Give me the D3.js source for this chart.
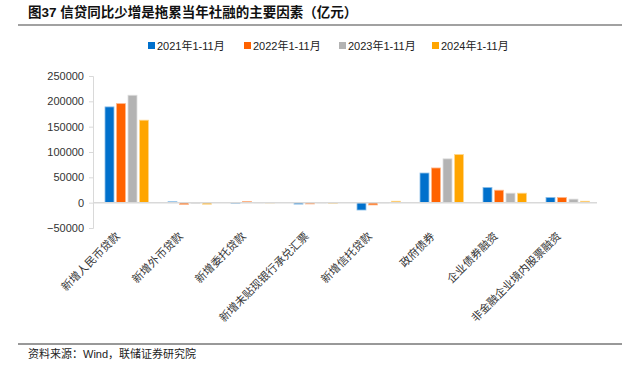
<!DOCTYPE html>
<html>
<head>
<meta charset="utf-8">
<script src="https://cdn.jsdelivr.net/npm/d3@7"></script>
<style>
  body { margin: 0; background: #fff; }
  text { font-family: "Liberation Sans", Arial, "Noto Sans CJK SC", sans-serif; }
</style>
</head>
<body>
<div id="chart"></div>
<script>
// categories and series (亿元)
const categories = ["新增人民币贷款", "新增外币贷款", "新增委托贷款", "新增未贴现银行承兑汇票",
                    "新增信托贷款", "政府债券", "企业债券融资", "非金融企业境内股票融资"];
const seriesNames = ["2021年1-11月", "2022年1-11月", "2023年1-11月", "2024年1-11月"];
const v2021 = [189000, 1800, -1200, -2800, -14500, 58500, 30000, 10200];
const v2022 = [195500, -3500, 2500, -2500, -4500, 68500, 24600, 10300];
const v2023 = [212000, -1200, -300, -500, -500, 86500, 18700, 7000];
const v2024 = [162800, -3000, -600, -1200, 2800, 95000, 18700, 2800];
const yTicks = [-50000, 0, 50000, 100000, 150000, 200000, 250000];
const colors = ["#0070cc", "#ff6200", "#b3b3b3", "#ffa500"];

const width = 639, height = 372;
const svg = d3.select("#chart").append("svg")
    .attr("width", width).attr("height", height);

// title + rules
svg.append("text")
    .attr("x", 28).attr("y", 17)
    .attr("font-size", 13.5).attr("font-weight", "bold")
    .attr("font-family", "'Noto Sans CJK SC', sans-serif")
    .attr("fill", "#111")
    .text("图37 信贷同比少增是拖累当年社融的主要因素（亿元）");
svg.append("line").attr("x1", 18).attr("x2", 622).attr("y1", 25).attr("y2", 25)
    .attr("stroke", "#444").attr("stroke-width", 1.2);
svg.append("line").attr("x1", 18).attr("x2", 622).attr("y1", 344).attr("y2", 344)
    .attr("stroke", "#333").attr("stroke-width", 1);
svg.append("text")
    .attr("x", 28).attr("y", 358)
    .attr("font-size", 11).attr("fill", "#222")
    .attr("font-family", "'Noto Sans CJK SC', sans-serif")
    .text("资料来源：Wind，联储证券研究院");

// scales
const x0 = d3.scaleBand().domain(categories).range([93, 597]);
const x1 = d3.scaleBand().domain(seriesNames).range([12, 55.5]).paddingInner(0.22);
const y = d3.scaleLinear().domain([-50000, 250000]).range([228, 76]);

// y axis
const yAxis = svg.append("g")
    .attr("transform", "translate(93,0)")
    .call(d3.axisLeft(y).tickValues(yTicks).tickSize(4).tickPadding(5).tickFormat(d3.format("d")));
yAxis.select(".domain").attr("stroke", "#d9d9d9");
yAxis.selectAll(".tick line").attr("stroke", "#d9d9d9");
yAxis.selectAll(".tick text").attr("font-size", 11).attr("fill", "#333")
    .attr("font-family", "'Liberation Sans', Arial, sans-serif");

// bars
const table = categories.map((c, i) => ({
    cat: c,
    vals: [v2021[i], v2022[i], v2023[i], v2024[i]]
}));

const groups = svg.append("g").selectAll("g")
    .data(table).enter().append("g")
    .attr("transform", d => `translate(${x0(d.cat)},0)`);

groups.selectAll("rect")
    .data(d => d.vals.map((v, k) => ({ key: seriesNames[k], v: v, k: k })))
    .enter().append("rect")
    .attr("x", d => x1(d.key))
    .attr("width", x1.bandwidth())
    .attr("y", d => y(Math.max(0, d.v)))
    .attr("height", d => Math.abs(y(d.v) - y(0)))
    .attr("fill", d => colors[d.k])
    .attr("stroke", d => d3.interpolateRgb(colors[d.k], "#fff")(0.55))
    .attr("stroke-width", 0.8);

// zero line
svg.append("line")
    .attr("x1", 93).attr("x2", 597)
    .attr("y1", y(0)).attr("y2", y(0))
    .attr("stroke", "#d9d9d9").attr("stroke-width", 1.5);

// category labels, rotated
svg.append("g").selectAll("text")
    .data(categories).enter().append("text")
    .attr("transform", d => `translate(${x0(d) + x0.bandwidth() / 2 - 4},237) rotate(-45)`)
    .attr("text-anchor", "end")
    .attr("font-size", 11)
    .attr("fill", "#333")
    .attr("font-family", "'Noto Sans CJK SC', sans-serif")
    .text(d => d);

// legend
const legendX = [148, 244, 339, 432];
const legend = svg.append("g").selectAll("g")
    .data(seriesNames).enter().append("g")
    .attr("transform", (d, i) => `translate(${legendX[i]},46)`);
legend.append("rect")
    .attr("x", 0).attr("y", -4).attr("width", 7).attr("height", 7)
    .attr("fill", (d, i) => colors[i]);
legend.append("text")
    .attr("x", 9).attr("y", 4)
    .attr("font-size", 11).attr("fill", "#222")
    .text(d => d);
</script>
</body>
</html>
